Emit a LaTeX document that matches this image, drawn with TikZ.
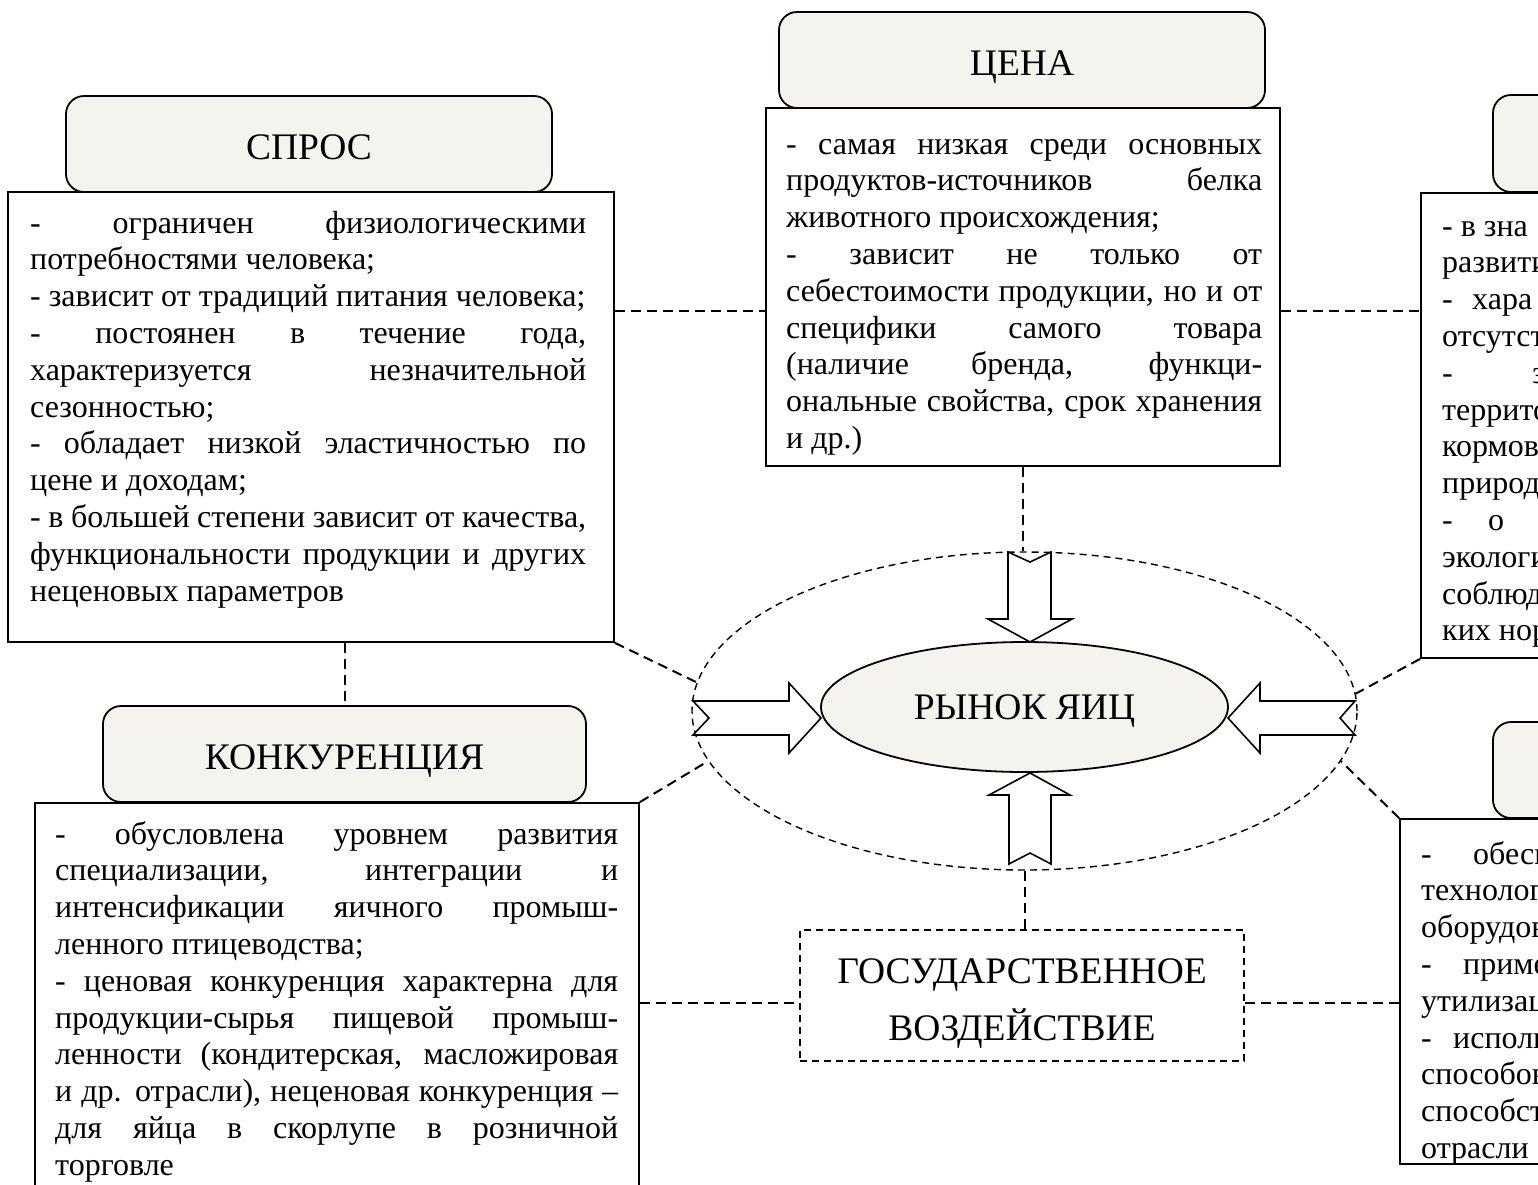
\documentclass[tikz,border=0pt]{standalone}
\usepackage{fontspec}
\setmainfont{Liberation Serif}
\usetikzlibrary{shapes.geometric}
\definecolor{hdr}{RGB}{244,243,238}
\newcommand\jline[1]{\hbox to\hsize{#1}}
\newcommand\lline[1]{\hbox to\hsize{#1\hfil}}
\newcommand\fline[2]{\hbox to\hsize{\rlap{-}\kern#1pt #2\hss}}
\newcommand\tblock[2]{\vtop{\hsize=#1\relax\hbadness=10000\hfuzz=30pt #2}}
\tikzset{
  bodybox/.style={draw, line width=1.8pt, fill=white, inner sep=0pt},
  headbox/.style={draw, line width=1.8pt, fill=hdr, rounded corners=18pt, inner sep=0pt,
    font=\fontsize{37.5}{43}\selectfont, text height=30pt, text depth=0pt},
  btext/.style={anchor=base west, inner sep=0pt, font=\fontsize{32}{36.8}\selectfont},
  conn/.style={line width=2pt, dash pattern=on 10pt off 6pt},
  blockarrow/.style={draw, fill=white, line width=1.6pt, line join=miter},
  bigtext/.style={anchor=base, inner sep=0pt, font=\fontsize{37.5}{43}\selectfont},
}
\begin{document}
\begin{tikzpicture}[x=1pt,y=-1pt]
\path[use as bounding box] (0,0) rectangle (1538,1184);
\fill[white] (0,0) rectangle (1538,1184);
\clip (0,0) rectangle (1538,1184);

% outer dashed ellipse
\node[ellipse, draw, line width=1.4pt, dash pattern=on 7pt off 5pt, minimum width=665pt, minimum height=318pt, inner sep=0pt] (outer) at (1024.5,711) {};

% body boxes
\node[bodybox, minimum width=606pt, minimum height=450pt] (sprbody) at (311,417) {};
\node[bodybox, minimum width=514pt, minimum height=358pt] (cenbody) at (1023,287) {};
\node[bodybox, minimum width=606pt, minimum height=465pt] (rtbody) at (1724,425.5) {};
\node[bodybox, minimum width=604pt, minimum height=447pt] (konkbody) at (337,1026.5) {};
\node[bodybox, minimum width=606pt, minimum height=345pt] (rbbody) at (1703,991.5) {};
\node[draw, line width=1.8pt, dash pattern=on 7pt off 5pt, minimum width=444pt, minimum height=131pt, inner sep=0pt] (gos) at (1022,995.5) {};

% headers
\node[headbox, minimum width=486pt, minimum height=96pt] (sprhead) at (309,144) {СПРОС};
\node[headbox, minimum width=486pt, minimum height=96pt] (cenhead) at (1022,60) {ЦЕНА};
\node[headbox, minimum width=486pt, minimum height=97pt] (rthead) at (1736,143.5) {};
\node[headbox, minimum width=483pt, minimum height=96pt] (konkhead) at (344.5,754) {КОНКУРЕНЦИЯ};
\node[headbox, minimum width=486pt, minimum height=96pt] (rbhead) at (1736,770) {};

% connectors
\coordinate (ya) at (0,311);
\coordinate (yb) at (0,1003);
\draw[conn] (sprbody.east |- ya) -- (cenbody.west |- ya);
\draw[conn] (cenbody.east |- ya) -- (rtbody.west |- ya);
\draw[conn] (cenbody.south) -- (cenbody.south |- outer.north);
\draw[conn] (konkhead.north |- sprbody.south) -- (konkhead.north);
\draw[conn] (sprbody.south east) -- (outer.175);
\draw[conn] (konkbody.north east) -- (outer.189);
\draw[conn] (rtbody.south west) -- (outer.3);
\draw[conn] (rbbody.north west) -- (outer.351);
\draw[conn] (outer.south) -- (outer.south |- gos.north);
\draw[conn] (konkbody.east |- yb) -- (gos.west |- yb);
\draw[conn] (gos.east |- yb) -- (rbbody.west |- yb);

% block arrows
\draw[blockarrow] (1008,552) -- (1030,562) -- (1051,552) -- (1051,619) -- (1072,619) -- (1030,642) -- (988,619) -- (1008,619) -- cycle;
\draw[blockarrow] (1009,864) -- (1030,853) -- (1051,864) -- (1051,795) -- (1070,795) -- (1030,773) -- (989,795) -- (1009,795) -- cycle;
\draw[blockarrow] (693,701) -- (709,718) -- (693,735) -- (789,735) -- (789,753) -- (821,718) -- (789,683) -- (789,701) -- cycle;
\draw[blockarrow] (1355,701) -- (1340,718) -- (1355,735) -- (1260,735) -- (1260,753) -- (1228,718) -- (1260,683) -- (1260,701) -- cycle;

% central ellipse
\node[ellipse, draw, line width=1.8pt, fill=hdr, minimum width=407pt, minimum height=130pt, inner sep=0pt,
  font=\fontsize{37.5}{43}\selectfont, text height=25pt, text depth=0pt] (market) at (1024.5,707) {РЫНОК ЯИЦ};

% state box text
\node[bigtext] (gos1) at (1022,983) {ГОСУДАРСТВЕННОЕ};
\node[bigtext] (gos2) at (1022,1040) {ВОЗДЕЙСТВИЕ};

% body texts
\node[btext] (sprtext) at (30,233) {\tblock{556pt}{%
\jline{- ограничен физиологическими}
\lline{потребностями человека;}
\lline{- зависит от традиций питания человека;}
\jline{- постоянен в течение года,}
\jline{характеризуется незначительной}
\lline{сезонностью;}
\jline{- обладает низкой эластичностью по}
\lline{цене и доходам;}
\jline{- в большей степени зависит от качества,}
\jline{функциональности продукции и других}
\lline{неценовых параметров}}};

\node[btext] (centext) at (786,154) {\tblock{476pt}{%
\jline{- самая низкая среди основных}
\jline{продуктов-источников белка}
\lline{животного происхождения;}
\jline{- зависит не только от}
\jline{себестоимости продукции, но и от}
\jline{специфики самого товара}
\jline{(наличие бренда, функци-}
\jline{ональные свойства, срок хранения}
\lline{и др.)}}};

\node[btext] (konktext) at (55,844) {\tblock{563pt}{%
\jline{- обусловлена уровнем развития}
\jline{специализации, интеграции и}
\jline{интенсификации яичного промыш-}
\lline{ленного птицеводства;}
\jline{- ценовая конкуренция характерна для}
\jline{продукции-сырья пищевой промыш-}
\jline{ленности (кондитерская, масложировая}
\jline{и др. отрасли), неценовая конкуренция –}
\jline{для яйца в скорлупе в розничной}
\lline{торговле}}};

\node[btext] (rttext) at (1442,236) {\tblock{200pt}{%
\lline{- в зна}
\lline{развити}
\fline{30}{хара}
\lline{отсутст}
\fline{90}{з}
\lline{террито}
\lline{кормов}
\lline{природ}
\fline{46}{о}
\lline{экологи}
\lline{соблюд}
\lline{ких нор}}};

\node[btext] (rbtext) at (1421,864) {\tblock{200pt}{%
\fline{52}{обесп}
\lline{технолог}
\lline{оборудов}
\fline{42}{приме}
\lline{утилизац}
\fline{32}{исполь}
\lline{способов}
\lline{способст}
\lline{отрасли}}};
\end{tikzpicture}
\end{document}
